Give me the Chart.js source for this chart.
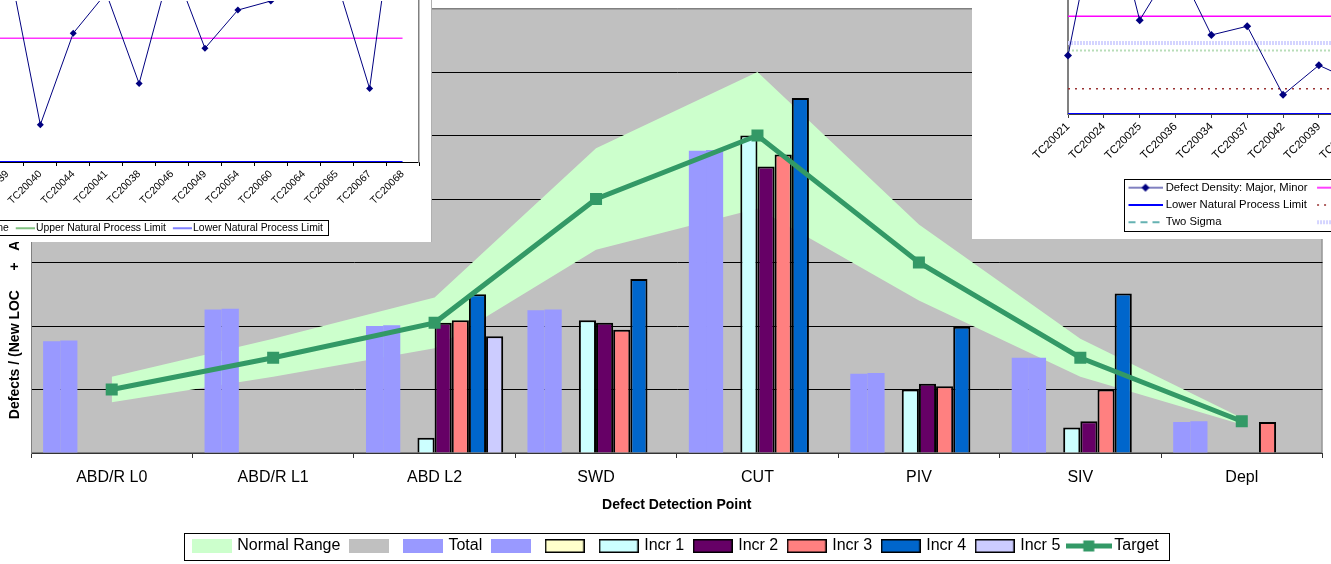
<!DOCTYPE html>
<html>
<head>
<meta charset="utf-8">
<script src="https://cdn.jsdelivr.net/npm/chart.js@4.4.1/dist/chart.umd.min.js"></script>
<style>
  body { margin: 0; background: #fff; }
  #page { position: relative; width: 1331px; height: 564px; overflow: hidden; }
  .inset { position: absolute; background: #fff; overflow: hidden; }
  canvas { position: absolute; }
</style>
</head>
<body>
<div id="page">
  <canvas id="main" width="1331" height="564" style="left:0;top:0"></canvas>
  <div class="inset" style="left:0;top:0;width:431px;height:242px;border-right:1px solid #b0b0b0">
    <canvas id="tlPlot" width="514" height="213" style="left:-82px;top:-3px"></canvas>
    <canvas id="tlKey" width="700" height="40" style="left:-369px;top:215px"></canvas>
  </div>
  <div class="inset" style="left:972px;top:0;width:359px;height:239px">
    <canvas id="trPlot" width="420" height="169" style="left:46px;top:-5px"></canvas>
    <canvas id="trKey" width="1300" height="64" style="left:147px;top:176px"></canvas>
  </div>
</div>
<script>
// main chart
const categories = ['ABD/R L0', 'ABD/R L1', 'ABD L2', 'SWD', 'CUT', 'PIV', 'SIV', 'Depl'];
const rangeHigh = [1.2, 1.8, 2.45, 4.8, 6.0, 3.6, 1.8, 0.55];
const rangeLow  = [0.8, 1.2, 1.65, 3.2, 3.85, 2.4, 1.2, 0.45];
const total     = [1.76, 2.26, 2.0, 2.25, 4.76, 1.25, 1.5, 0.49];
const total2    = [1.77, 2.27, 2.01, 2.26, 4.77, 1.26, 1.5, 0.5];
const incr0     = [null, null, null, null, null, null, null, null];
const incr1     = [null, null, 0.24, 2.09, 5.0, 1.0, 0.4, null];
const incr2     = [null, null, 2.05, 2.05, 4.51, 1.09, 0.5, null];
const incr3     = [null, null, 2.09, 1.94, 4.7, 1.05, 1.0, 0.49];
const incr4     = [null, null, 2.5, 2.74, 5.59, 1.99, 2.51, null];
const incr5     = [null, null, 1.84, null, null, null, null, null];
const target    = [1.0, 1.5, 2.05, 4.0, 5.0, 3.0, 1.5, 0.5];

// top-left inset (control chart)
const tlLabels  = ['TC20033', 'TC20039', 'TC20040', 'TC20044', 'TC20041', 'TC20038', 'TC20046',
                   'TC20049', 'TC20054', 'TC20060', 'TC20064', 'TC20065', 'TC20067', 'TC20068'];
const tlDensity = [14.0, 20.4, 3.7, 12.8, 16.8, 7.8, 19.9, 11.3, 15.1, 16.0, 22.8, 18.0, 7.3, 31.1];
const tlCenter  = [12.3, 12.3, 12.3, 12.3, 12.3, 12.3, 12.3, 12.3, 12.3, 12.3, 12.3, 12.3, 12.3, 12.3];
const tlUpper   = [26, 26, 26, 26, 26, 26, 26, 26, 26, 26, 26, 26, 26, 26];
const tlLower   = [0, 0, 0, 0, 0, 0, 0, 0, 0, 0, 0, 0, 0, 0];

// top-right inset (control chart)
const trLabels   = ['TC20021', 'TC20024', 'TC20025', 'TC20036', 'TC20034', 'TC20037',
                    'TC20042', 'TC20039', 'TC20043', 'TC20045', 'TC20047'];
const trDensity  = [5.8, 23.4, 9.3, 15.1, 7.83, 8.7, 1.9, 4.83, 3.2, 7.4, 4.4];
const trCenter   = [9.7, 9.7, 9.7, 9.7, 9.7, 9.7, 9.7, 9.7, 9.7, 9.7, 9.7];
const trLower    = [0, 0, 0, 0, 0, 0, 0, 0, 0, 0, 0];
const trTwoSigma = [14, 14, 14, 14, 14, 14, 14, 14, 14, 14, 14];
const trUpper    = [2.5, 2.5, 2.5, 2.5, 2.5, 2.5, 2.5, 2.5, 2.5, 2.5, 2.5];
const trSigmaA   = [7.05, 7.05, 7.05, 7.05, 7.05, 7.05, 7.05, 7.05, 7.05, 7.05, 7.05];
const trSigmaB   = [6.3, 6.3, 6.3, 6.3, 6.3, 6.3, 6.3, 6.3, 6.3, 6.3, 6.3];

const FONT = "'Liberation Sans', Arial, sans-serif";
Chart.defaults.font.family = FONT;
Chart.defaults.color = '#000';
Chart.defaults.animation = false;

// legend keys drawn into small canvases
function swatch(w, h, paint) {
  const c = document.createElement('canvas');
  c.width = w; c.height = h;
  paint(c.getContext('2d'), w, h);
  return c;
}
function boxKey(fill, edge) {
  return swatch(40, 14, (g, w, h) => {
    g.fillStyle = fill;
    g.fillRect(0, 0, w, h);
    if (edge) {
      g.strokeStyle = '#000';
      g.lineWidth = 1.5;
      g.strokeRect(0.75, 0.75, w - 1.5, h - 1.5);
    }
  });
}
function lineKey(w, from, color, width, dash, marker) {
  return swatch(w, 14, (g, w, h) => {
    g.strokeStyle = color;
    g.lineWidth = width;
    g.setLineDash(dash || []);
    g.beginPath(); g.moveTo(from, h / 2); g.lineTo(w, h / 2); g.stroke();
    if (marker) {
      const cx = (from + w) / 2, cy = h / 2, s = marker.size;
      g.fillStyle = marker.color;
      g.beginPath();
      if (marker.shape === 'rect') {
        g.rect(cx - s / 2, cy - s / 2, s, s);
      } else {
        g.moveTo(cx, cy - s); g.lineTo(cx + s, cy); g.lineTo(cx, cy + s); g.lineTo(cx - s, cy);
        g.closePath();
      }
      g.fill();
    }
  });
}
function keyedLabels(keys) {
  return chart => Chart.defaults.plugins.legend.labels.generateLabels(chart)
    .map(item => Object.assign(item, {pointStyle: keys[item.datasetIndex]}));
}

const legendFrame = {
  id: 'legendFrame',
  afterDraw(chart, args, opts) {
    const boxes = chart.legend && chart.legend.legendHitBoxes;
    if (!opts.display || !boxes || !boxes.length) return;
    const left = Math.min(...boxes.map(b => b.left)) - opts.left;
    const right = Math.max(...boxes.map(b => b.left + b.width)) + opts.right;
    const top = Math.min(...boxes.map(b => b.top)) - opts.top;
    const bottom = Math.max(...boxes.map(b => b.top + b.height)) + opts.bottom;
    const ctx = chart.ctx;
    ctx.save();
    ctx.strokeStyle = '#000';
    ctx.lineWidth = 1;
    ctx.strokeRect(Math.round(left) + 0.5, Math.round(top) + 0.5, Math.round(right - left), Math.round(bottom - top));
    ctx.restore();
  }
};

const plotBackdrop = {
  id: 'plotBackdrop',
  beforeDraw(chart, args, opts) {
    if (!opts.color) return;
    const {ctx, chartArea: a} = chart;
    ctx.save();
    ctx.fillStyle = opts.color;
    ctx.fillRect(a.left, a.top, a.width, a.height);
    ctx.strokeStyle = opts.edge;
    ctx.lineWidth = 1;
    ctx.strokeRect(a.left + 0.5, a.top + 0.5, a.width - 1, a.height - 1);
    ctx.restore();
  }
};

function bar(label, data, color, edged) {
  return {
    label: label, data: data,
    backgroundColor: color,
    borderColor: '#000',
    borderWidth: edged ? 2 : 0,
    categoryPercentage: 0.85,
    barPercentage: 1.0,
    order: 2
  };
}

const mainKeys = [
  boxKey('#CCFFCC'), boxKey('#C0C0C0'), boxKey('#9999FF'), boxKey('#9999FF'),
  boxKey('#FFFFCC', true), boxKey('#CCFFFF', true), boxKey('#660066', true),
  boxKey('#FF8080', true), boxKey('#0066CC', true), boxKey('#CCCCFF', true),
  lineKey(46, 0, '#339966', 5, null, {shape: 'rect', size: 11, color: '#339966'})
];

new Chart(document.getElementById('main'), {
  type: 'bar',
  data: {
    labels: categories,
    datasets: [
      {type: 'line', label: 'Normal Range', data: rangeHigh, backgroundColor: '#CCFFCC',
       borderColor: 'rgba(0,0,0,0)', borderWidth: 0, pointRadius: 0, fill: '+1', order: 3},
      {type: 'line', label: '', data: rangeLow, backgroundColor: '#C0C0C0',
       borderColor: 'rgba(0,0,0,0)', borderWidth: 0, pointRadius: 0, fill: false, order: 3},
      bar('Total', total, '#9999FF', false),
      bar('', total2, '#9999FF', false),
      bar('', incr0, '#FFFFCC', true),
      bar('Incr 1', incr1, '#CCFFFF', true),
      bar('Incr 2', incr2, '#660066', true),
      bar('Incr 3', incr3, '#FF8080', true),
      bar('Incr 4', incr4, '#0066CC', true),
      bar('Incr 5', incr5, '#CCCCFF', true),
      {type: 'line', label: 'Target', data: target, borderColor: '#339966', backgroundColor: '#339966',
       borderWidth: 5, pointStyle: 'rect', pointRadius: 8.5, pointBorderWidth: 0,
       pointBackgroundColor: '#339966', fill: false, tension: 0, order: 1}
    ]
  },
  options: {
    responsive: false,
    animation: false,
    layout: {padding: {top: 7, right: -22, bottom: 0, left: 0}},
    plugins: {
      tooltip: {enabled: false},
      legend: {
        position: 'bottom',
        labels: {
          usePointStyle: true, pointStyleWidth: 35, padding: 11,
          font: {size: 16}, color: '#000',
          generateLabels: keyedLabels(mainKeys),
          sort: (a, b) => a.datasetIndex - b.datasetIndex
        }
      },
      legendFrame: {display: true, left: 10, right: 10, top: 5, bottom: 6},
      plotBackdrop: {color: '#C0C0C0', edge: '#808080'}
    },
    scales: {
      x: {
        offset: true,
        grid: {offset: true, drawOnChartArea: false, tickLength: 5, color: '#333'},
        border: {color: '#333'},
        ticks: {font: {size: 16}, color: '#000', padding: 10, autoSkip: false, maxRotation: 0},
        title: {display: true, text: 'Defect Detection Point', color: '#000',
                font: {size: 14, weight: 'bold'}, padding: {top: 9, bottom: 13.6}},
        afterFit: s => { s.height = 74; }
      },
      y: {
        min: 0, max: 7,
        ticks: {display: false, stepSize: 1},
        grid: {color: c => (c.tick && c.tick.value === 7) ? '#808080' : '#000', drawTicks: false},
        border: {color: '#808080'},
        title: {display: true, text: 'Defects / (New LOC     +   Added & Modified LOC) / KLOC', color: '#000',
                font: {size: 14, weight: 'bold'}, padding: {top: 6.6, bottom: 0}},
        afterFit: s => { s.width = 31; }
      },
      y2: {
        type: 'linear', position: 'right', display: true,
        ticks: {display: false}, grid: {display: false}, border: {display: false},
        afterFit: s => { s.width = 27; }
      }
    }
  },
  plugins: [legendFrame, plotBackdrop]
});

// top-left inset
const tlSeries = [
  {label: 'Defect Density: Major, Minor', data: tlDensity, borderColor: '#000080', borderWidth: 1,
   pointStyle: 'rectRot', pointRadius: 3.5, pointBackgroundColor: '#000080', pointBorderWidth: 0},
  {label: 'Center Line', data: tlCenter, borderColor: '#FF33FF', borderWidth: 1.5, pointRadius: 0},
  {label: 'Upper Natural Process Limit', data: tlUpper, borderColor: '#008000', borderWidth: 1, pointRadius: 0},
  {label: 'Lower Natural Process Limit', data: tlLower, borderColor: '#0000FF', borderWidth: 2, pointRadius: 0}
];
const tlKeys = [
  lineKey(22, 3, '#000080', 1, null, {shape: 'diamond', size: 3.5, color: '#000080'}),
  lineKey(22, 3, '#FF33FF', 1.5),
  lineKey(22, 3, '#008000', 1),
  lineKey(22, 3, '#0000FF', 1)
];

new Chart(document.getElementById('tlPlot'), {
  type: 'line',
  data: {labels: tlLabels, datasets: tlSeries.map(s => Object.assign({fill: false, tension: 0}, s))},
  options: {
    responsive: false,
    animation: false,
    layout: {padding: {left: 40, right: 13, top: 0, bottom: 0}},
    plugins: {legend: {display: false}, tooltip: {enabled: false}},
    scales: {
      x: {
        offset: true,
        grid: {offset: true, drawOnChartArea: false, tickLength: 4, color: '#000'},
        border: {color: '#000'},
        ticks: {autoSkip: false, minRotation: 45, maxRotation: 45, font: {size: 10.4}, color: '#000', padding: 2},
        afterFit: s => { s.height = 48; }
      },
      y: {
        position: 'right', min: 0, max: 16,
        ticks: {display: false}, grid: {display: false},
        border: {color: '#808080', width: 1.5},
        afterFit: s => { s.width = 0; }
      }
    }
  }
});

new Chart(document.getElementById('tlKey'), {
  type: 'line',
  data: {labels: [], datasets: tlSeries.map(s => Object.assign({}, s, {data: []}))},
  options: {
    responsive: false,
    animation: false,
    scales: {x: {display: false}, y: {display: false}},
    plugins: {
      tooltip: {enabled: false},
      legend: {
        position: 'top', align: 'end',
        labels: {usePointStyle: true, pointStyleWidth: 14, padding: 8, font: {size: 10.4}, color: '#000',
                 generateLabels: keyedLabels(tlKeys)}
      },
      legendFrame: {display: true, left: 4, right: 5, top: 3, bottom: 2}
    }
  },
  plugins: [legendFrame]
});

// top-right inset
const trSeries = [
  {label: 'Defect Density: Major, Minor', data: trDensity, borderColor: '#000080', borderWidth: 1,
   pointStyle: 'rectRot', pointRadius: 4, pointBackgroundColor: '#000080', pointBorderWidth: 0},
  {label: 'Lower Natural Process Limit', data: trLower, borderColor: '#0000FF', borderWidth: 2, pointRadius: 0},
  {label: 'Two Sigma', data: trTwoSigma, borderColor: '#339999', borderWidth: 1.5, borderDash: [7, 5], pointRadius: 0},
  {label: 'Center Line', data: trCenter, borderColor: '#FF00FF', borderWidth: 1.5, pointRadius: 0},
  {label: 'Upper Natural Process Limit', data: trUpper, borderColor: '#993333', borderWidth: 1.5, borderDash: [2, 5], pointRadius: 0},
  {label: 'One Sigma', data: trSigmaA, borderColor: '#D4D4FF', borderWidth: 4, borderDash: [2, 1], pointRadius: 0},
  {label: 'Minus One Sigma', data: trSigmaB, borderColor: '#B8DDB8', borderWidth: 2, borderDash: [2, 2], pointRadius: 0}
];
const trKeys = [
  lineKey(40, 6, '#000080', 1, null, {shape: 'diamond', size: 4, color: '#000080'}),
  lineKey(40, 6, '#0000FF', 2),
  lineKey(40, 6, '#339999', 1.5, [7, 5]),
  lineKey(40, 6, '#FF00FF', 1.5),
  lineKey(40, 6, '#993333', 1.5, [2, 5]),
  lineKey(40, 6, '#D4D4FF', 4, [2, 1]),
  lineKey(40, 6, '#B8DDB8', 2, [2, 2])
];

new Chart(document.getElementById('trPlot'), {
  type: 'line',
  data: {labels: trLabels, datasets: trSeries.map(s => Object.assign({fill: false, tension: 0}, s))},
  options: {
    responsive: false,
    animation: false,
    layout: {padding: {left: 50, right: 10, top: 0, bottom: 0}},
    plugins: {legend: {display: false}, tooltip: {enabled: false}},
    scales: {
      x: {
        offset: false,
        grid: {offset: false, drawOnChartArea: false, tickLength: 4, color: '#404040'},
        border: {color: '#404040'},
        ticks: {autoSkip: false, minRotation: 45, maxRotation: 45, font: {size: 11.3}, color: '#000', padding: 2},
        afterFit: s => { s.height = 50; }
      },
      y: {
        position: 'left', min: 0, max: 11.4,
        ticks: {display: false}, grid: {display: false},
        border: {color: '#808080', width: 2},
        afterFit: s => { s.width = 0; }
      }
    }
  }
});

new Chart(document.getElementById('trKey'), {
  type: 'line',
  data: {labels: [], datasets: trSeries.map(s => Object.assign({}, s, {data: []}))},
  options: {
    responsive: false,
    animation: false,
    scales: {x: {display: false}, y: {display: false}},
    plugins: {
      tooltip: {enabled: false},
      legend: {
        position: 'left', align: 'start',
        labels: {usePointStyle: true, pointStyleWidth: 35, padding: 6, font: {size: 11.3}, color: '#000',
                 generateLabels: keyedLabels(trKeys)}
      },
      legendFrame: {display: true, left: 1, right: 5, top: 3, bottom: 3}
    }
  },
  plugins: [legendFrame]
});
</script>
</body>
</html>
